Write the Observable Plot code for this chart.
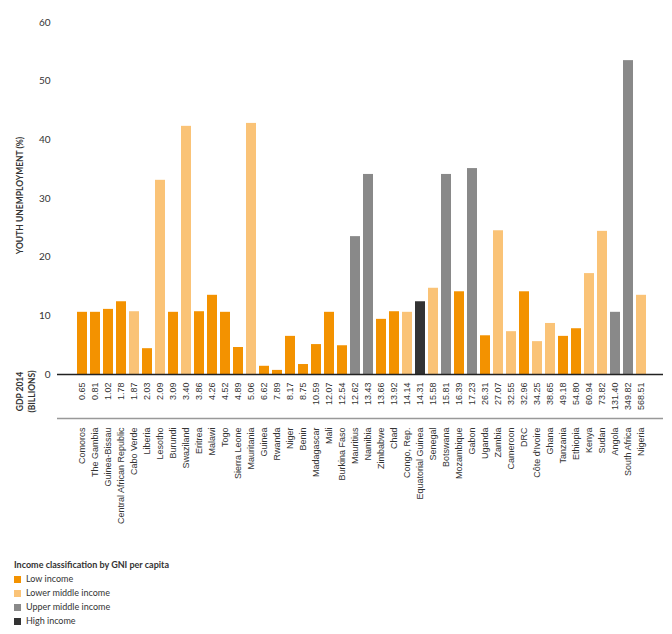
<!DOCTYPE html>
<html><head><meta charset="utf-8">
<script src="https://cdn.jsdelivr.net/npm/d3@7"></script>
<script src="https://cdn.jsdelivr.net/npm/@observablehq/plot@0.6"></script>
<style>
body{margin:0;background:#fff;}
#chart{position:relative;width:672px;height:634px;overflow:hidden;}
#chart svg{position:absolute;left:0;top:0;}
.legend{position:absolute;left:14px;top:558px;font-family:Lato,"Open Sans",sans-serif;font-size:9px;color:#333;line-height:14px;}
.legend .title{font-weight:bold;}
.legend .item{display:flex;align-items:center;}
.legend .sw{width:7px;height:7px;margin-right:5px;display:inline-block;}
</style></head><body><div id="chart"></div>
<script>
const countries = ["Comoros","The Gambia","Guinea-Bissau","Central African Republic","Cabo Verde","Liberia","Lesotho","Burundi","Swaziland","Eritrea","Malawi","Togo","Sierra Leone","Mauritania","Guinea","Rwanda","Niger","Benin","Madagascar","Mali","Burkina Faso","Mauritius","Namibia","Zimbabwe","Chad","Congo, Rep.","Equatorial Guinea","Senegal","Botswana","Mozambique","Gabon","Uganda","Zambia","Cameroon","DRC","Côte d'Ivoire","Ghana","Tanzania","Ethiopia","Kenya","Sudan","Angola","South Africa","Nigeria"];
const gdp = [0.65,0.81,1.02,1.78,1.87,2.03,2.09,3.09,3.40,3.86,4.26,4.52,4.89,5.06,6.62,7.89,8.17,8.75,10.59,12.07,12.54,12.62,13.43,13.66,13.92,14.14,14.31,15.58,15.81,16.39,17.23,26.31,27.07,32.55,32.96,34.25,38.65,49.18,54.80,60.94,73.82,131.40,349.82,568.51];
const unemployment = [10.6,10.6,11.1,12.4,10.7,4.4,33.1,10.6,42.3,10.7,13.5,10.6,4.6,42.8,1.4,0.7,6.5,1.7,5.1,10.6,4.9,23.5,34.1,9.4,10.7,10.6,12.4,14.7,34.1,14.1,35.1,6.6,24.5,7.3,14.1,5.6,8.7,6.5,7.8,17.2,24.4,10.6,53.5,13.5];
const incomeClasses = ["Low income","Lower middle income","Upper middle income","High income"];
const incomeColors = ["#f39200","#fac377","#898989","#333333"];
const L = "Low income", LM = "Lower middle income", UM = "Upper middle income", H = "High income";
const income = [L,L,L,L,LM,L,LM,L,LM,L,L,L,L,LM,L,L,L,L,L,L,L,UM,UM,L,L,LM,H,LM,UM,L,UM,L,LM,LM,L,LM,LM,L,L,LM,LM,UM,UM,LM];
const yTicks = [0,10,20,30,40,50,60];
const yLabel = "YOUTH UNEMPLOYMENT (%)";
const gdpLabel = "GDP 2014\n(BILLIONS)";
const legendTitle = "Income classification by GNI per capita";

const data = countries.map((c,i)=>({country:c, gdp:gdp[i], value:unemployment[i], income:income[i]}));

const plot = Plot.plot({
  width:672, height:545, marginTop:22, marginBottom:171, marginLeft:57, marginRight:9,
  style:{fontFamily:"Lato, sans-serif", fontSize:"10px", color:"#333", background:"#fff"},
  x:{domain:countries, padding:0.25, insetLeft:6, insetRight:4, axis:null},
  y:{domain:[0,60], ticks:yTicks, tickSize:0, tickPadding:7, label:null},
  color:{domain:incomeClasses, range:incomeColors},
  marks:[
    Plot.barY(data,{x:"country", y:"value", fill:"income"}),
    Plot.ruleY([0],{stroke:"#222", strokeWidth:1.5}),
    Plot.ruleY([0],{stroke:"#999", strokeWidth:1.5, dy:44}),
    Plot.text(data,{x:"country", text:d=>d.gdp.toFixed(2), frameAnchor:"bottom", dy:8, rotate:-90, textAnchor:"end", lineAnchor:"middle", fontFamily:"Liberation Sans, Arial, sans-serif", fontSize:9, fill:"#333"}),
    Plot.text(data,{x:"country", text:"country", frameAnchor:"bottom", dy:53, rotate:-90, textAnchor:"end", lineAnchor:"middle", fontFamily:"Liberation Sans, Arial, sans-serif", fontSize:9, fill:"#333"}),
    Plot.text([yLabel],{text:d=>d, frameAnchor:"left", dx:-37, dy:-3, rotate:-90, textAnchor:"middle", lineAnchor:"middle", fontWeight:"bold", fontSize:8.5, fill:"#333"}),
    Plot.text([gdpLabel],{text:d=>d, frameAnchor:"bottom-left", dx:-32, dy:17, rotate:-90, textAnchor:"middle", lineAnchor:"middle", fontWeight:"bold", fontSize:8.5, lineHeight:1.4, fill:"#333"})
  ]
});
const chart = document.getElementById("chart");
chart.appendChild(plot);

const legend = document.createElement("div");
legend.className = "legend";
const t = document.createElement("div");
t.className = "title"; t.textContent = legendTitle;
legend.appendChild(t);
incomeClasses.forEach((c,i)=>{
  const it = document.createElement("div"); it.className = "item";
  const sw = document.createElement("span"); sw.className = "sw"; sw.style.background = incomeColors[i];
  const lb = document.createElement("span"); lb.textContent = c;
  it.appendChild(sw); it.appendChild(lb); legend.appendChild(it);
});
chart.appendChild(legend);
</script></body></html>
